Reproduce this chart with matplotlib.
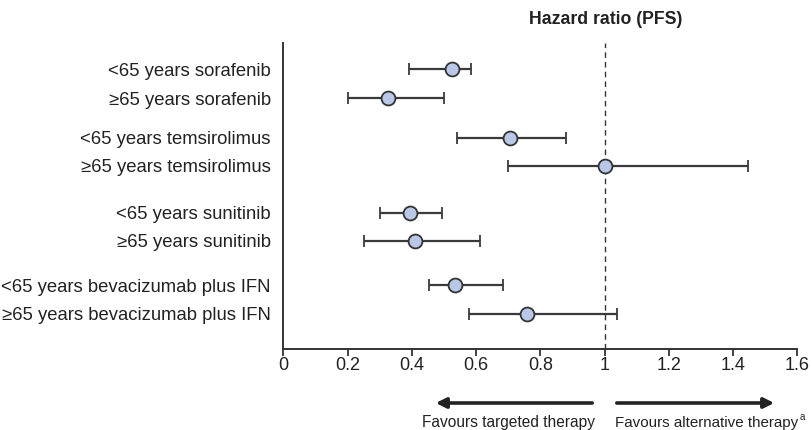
import matplotlib
matplotlib.use("Agg")
import matplotlib.pyplot as plt

plt.rcParams['font.family'] = ['Liberation Sans', 'DejaVu Sans']

labels = ["<65 years sorafenib", "≥65 years sorafenib",
          "<65 years temsirolimus", "≥65 years temsirolimus",
          "<65 years sunitinib", "≥65 years sunitinib",
          "<65 years bevacizumab plus IFN", "≥65 years bevacizumab plus IFN"]
hr = [0.525, 0.325, 0.705, 1.0, 0.395, 0.41, 0.535, 0.76]
lower = [0.39, 0.20, 0.54, 0.70, 0.30, 0.25, 0.455, 0.577]
upper = [0.583, 0.50, 0.88, 1.448, 0.495, 0.612, 0.685, 1.04]
xticks = [0, 0.2, 0.4, 0.6, 0.8, 1, 1.2, 1.4, 1.6]
xticklabels = ["0", "0.2", "0.4", "0.6", "0.8", "1", "1.2", "1.4", "1.6"]

# layout: row positions (vertical, in pixel-like units)
rows = [69, 98.3, 137.5, 166, 212.5, 240.7, 285, 313.5]

fig = plt.figure(figsize=(8.12, 4.3), dpi=100)
ax = fig.add_axes([283.3/812, 1-349/430, (797.3-283.3)/812, (349-43)/430])
ax.set_xlim(0, 1.6)
ax.set_ylim(349, 43)

ax.axvline(1, color='#333333', lw=1.0, ls=(0, (4, 3)), zorder=1)

xerr = [[h - l for h, l in zip(hr, lower)], [u - h for h, u in zip(hr, upper)]]
ax.errorbar(hr, rows, xerr=xerr, fmt='o', color='#3a3a3a', ecolor='#3a3a3a',
            elinewidth=1.6, capsize=4, capthick=1.6,
            markersize=10, markerfacecolor='#b9c8e6', markeredgecolor='#333333',
            markeredgewidth=1.3, zorder=3)

for sp in ['top', 'right']:
    ax.spines[sp].set_visible(False)
for sp in ['left', 'bottom']:
    ax.spines[sp].set_color('#333333')
    ax.spines[sp].set_linewidth(1.4)

ax.set_xticks(xticks)
ax.set_xticklabels(xticklabels, fontsize=13, color='#222222')
ax.tick_params(axis='x', direction='out', length=5, width=1.3, color='#333333', pad=1)
ax.set_yticks(rows)
ax.set_yticklabels(labels, fontsize=13.3, color='#222222')
ax.tick_params(axis='y', length=0, pad=9)

fig.text(606/812, 1-19/430, "Hazard ratio (PFS)", ha='center', va='center',
         fontsize=12.7, fontweight='bold', color='#222222')

# arrows
fig.patches.append(matplotlib.patches.FancyArrowPatch(
    (595/812, 1-403/430), (433/812, 1-403/430), transform=fig.transFigure,
    arrowstyle='-|>,head_length=6,head_width=3', color='#222222', lw=2.6, mutation_scale=1))
fig.patches.append(matplotlib.patches.FancyArrowPatch(
    (614/812, 1-403/430), (777/812, 1-403/430), transform=fig.transFigure,
    arrowstyle='-|>,head_length=6,head_width=3', color='#222222', lw=2.6, mutation_scale=1))
fig.text(508.5/812, 1-423/430, "Favours targeted therapy", ha='center', va='center',
         fontsize=11.2, color='#222222')
fig.text(615/812, 1-423/430, "Favours alternative therapy", ha='left', va='center',
         fontsize=10.9, color='#222222')
fig.text(800/812, 1-417/430, "a", ha='left', va='center',
         fontsize=7, color='#222222')

fig.savefig("out.png", dpi=100)
